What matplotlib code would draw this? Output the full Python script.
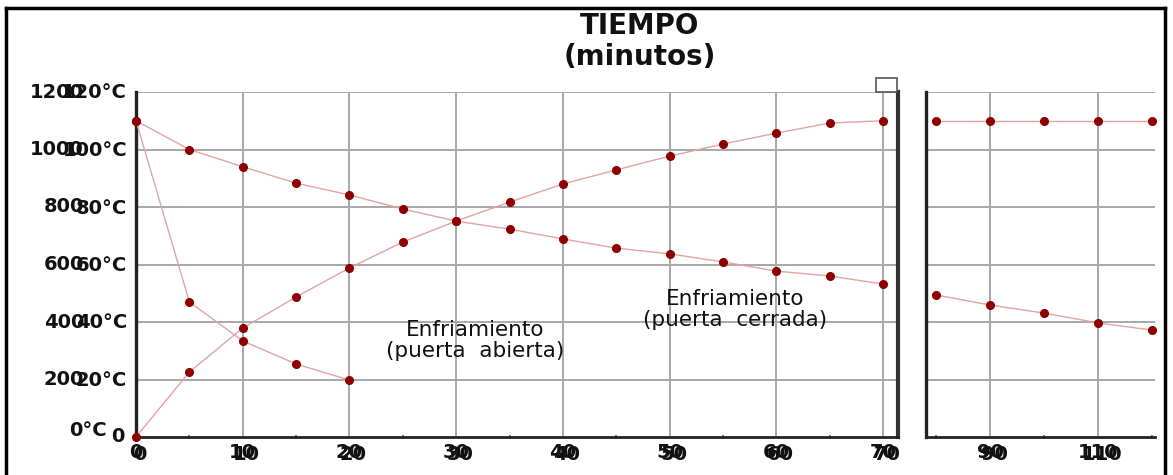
import matplotlib
matplotlib.use("Agg")
import matplotlib.pyplot as plt
from matplotlib import transforms
from matplotlib.patches import Rectangle
from matplotlib.lines import Line2D

# Time (minutes) and temperature (°C) series
t_main = [0, 5, 10, 15, 20, 25, 30, 35, 40, 45, 50, 55, 60, 65, 70]
cooling_closed = [110, 100, 94, 88.3, 84.2, 79.3, 75.1, 72.3, 68.9, 65.7, 63.7, 60.9, 57.7, 56, 53.2]
heating = [0, 22.6, 37.9, 48.7, 58.8, 67.8, 75.1, 81.7, 88, 92.9, 97.7, 101.9, 105.7, 109.2, 110]
t_open = [0, 5, 10, 15, 20]
cooling_open = [110, 47, 33.4, 25.4, 19.8]

t_late = [80, 90, 100, 110, 120]
cooling_closed_late = [49.4, 45.9, 43.1, 39.7, 37.2]
heating_late = [110, 110, 110, 110, 110]

y_ticks = [0, 20, 40, 60, 80, 100, 120]
x_ticks_main = [0, 10, 20, 30, 40, 50, 60, 70]
x_ticks_late = [90, 110]

LINE = "#e3a3a3"
MARK = "#8e0000"
GRID = "#a8a8a8"

W, H = 1173, 475
fig = plt.figure(figsize=(W / 100, H / 100), dpi=100)
fig.patch.set_facecolor("white")

ax1 = fig.add_axes([136 / W, 1 - 437 / H, (898 - 136) / W, (437 - 92) / H])
ax2 = fig.add_axes([926 / W, 1 - 437 / H, (1155 - 926) / W, (437 - 92) / H])

ax1.set_xlim(0, 71.4)
ax2.set_xlim(78.1, 120.6)
for ax in (ax1, ax2):
    ax.set_ylim(0, 120)
    ax.set_facecolor("white")
    ax.set_yticks(y_ticks[1:])
    ax.yaxis.grid(True, color=GRID, lw=1.4)
    ax.xaxis.grid(True, color=GRID, lw=1.4)
    ax.set_axisbelow(True)
    ax.tick_params(axis="y", length=0, labelleft=False)
    ax.tick_params(axis="x", length=0, labelbottom=False)
    ax.spines["top"].set_visible(False)
    ax.spines["bottom"].set_linewidth(2.0)
    ax.spines["left"].set_linewidth(2.4)
    ax.spines["bottom"].set_color("#222222")
    ax.spines["left"].set_color("#222222")

ax1.spines["right"].set_linewidth(3.0)
ax1.spines["right"].set_color("#333333")
ax2.spines["right"].set_visible(False)

ax1.set_xticks(x_ticks_main[1:])
ax1.set_xticks([5, 15, 25, 35, 45, 55, 65], minor=True)
ax2.set_xticks(x_ticks_late)
ax2.set_xticks([80, 100, 120], minor=True)
for ax in (ax1, ax2):
    ax.tick_params(axis="x", which="minor", length=3, width=1.2, direction="inout", color="#666666")

mk = dict(marker="o", ms=5.5, mfc=MARK, mec=MARK, color=LINE, lw=1.0, clip_on=False, zorder=4)
ax1.plot(t_main, cooling_closed, **mk)
ax1.plot(t_main, heating, **mk)
ax1.plot(t_open, cooling_open, **mk)
ax2.plot(t_late, cooling_closed_late, **mk)
ax2.plot(t_late, heating_late, **mk)

# Tick labels, drawn twice with a small offset
lab = dict(fontsize=14, fontweight="bold", family="DejaVu Sans", color="#111111")
for ax, ticks in ((ax1, x_ticks_main), (ax2, x_ticks_late)):
    tr = transforms.blended_transform_factory(ax.transData, ax.transAxes)
    tr2 = transforms.offset_copy(tr, fig=fig, x=4, y=-2, units="dots")
    for v in ticks:
        ax.text(v, -0.045, str(v), transform=tr, ha="center", va="center", **lab)
        ax.text(v, -0.045, str(v), transform=tr2, ha="center", va="center", **lab)

ytr = transforms.blended_transform_factory(fig.transFigure, ax1.transData)
for v in y_ticks:
    if v == 0:
        ax1.text(107 / W, v, "0°C", transform=transforms.offset_copy(ytr, fig=fig, y=7, units="dots"),
                 ha="right", va="center", **lab)
        ax1.text(124 / W, v, "0", transform=ytr, ha="right", va="center", **lab)
    else:
        ax1.text(84 / W, v, f"{v}0", transform=ytr, ha="right", va="center", **lab)
        ax1.text(127 / W, v, f"{v}°C", transform=transforms.offset_copy(ytr, fig=fig, y=-1, units="dots"),
                 ha="right", va="center", **lab)

# Curve labels
ax1.text(31.8, 33.5, "Enfriamiento\n(puerta  abierta)", ha="center", va="center",
         fontsize=15.5, linespacing=1.1, color="#111111")
ax1.text(56.1, 44.3, "Enfriamiento\n(puerta  cerrada)", ha="center", va="center",
         fontsize=15.5, linespacing=1.1, color="#111111")

# Title
fig.text(640 / W, 1 - 26 / H, "TIEMPO", ha="center", va="center", fontsize=20,
         fontweight="bold", color="#111111")
fig.text(640 / W, 1 - 57 / H, "(minutos)", ha="center", va="center", fontsize=20,
         fontweight="bold", color="#111111")

# Small empty box at the top of the break
fig.add_artist(Rectangle((876 / W, 1 - 92 / H), 21 / W, 14 / H, transform=fig.transFigure,
                         facecolor="white", edgecolor="#555555", lw=1.2, zorder=5))

# Outer frame
for xs, ys in (([6 / W, 1165 / W], [1 - 8 / H, 1 - 8 / H]),
               ([6 / W, 6 / W], [0, 1 - 8 / H]),
               ([1165 / W, 1165 / W], [0, 1 - 8 / H])):
    fig.add_artist(Line2D(xs, ys, transform=fig.transFigure, color="black", lw=2.5))

fig.savefig("out.png", dpi=100)
